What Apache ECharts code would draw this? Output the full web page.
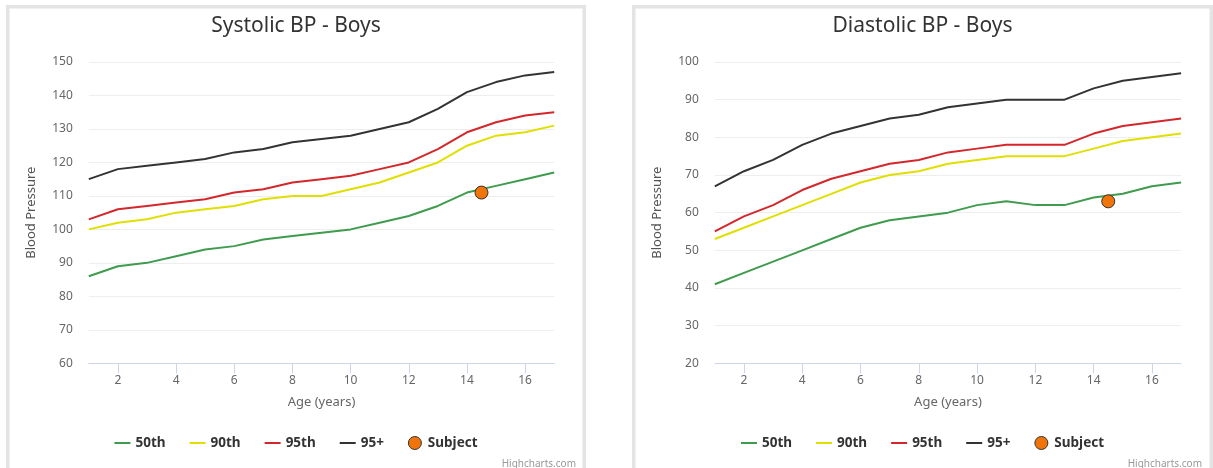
<!DOCTYPE html>
<html>
<head>
<meta charset="utf-8">
<title>Blood Pressure - Boys</title>
<script src="https://cdn.jsdelivr.net/npm/echarts@6/dist/echarts.min.js"></script>
<style>
  html, body { margin: 0; padding: 0; width: 1213px; height: 468px; overflow: hidden; background: #fff; }
  .panel { position: absolute; top: 0; height: 468px; }
  #sys { left: 6px; width: 580px; }
  #dia { left: 632px; width: 581px; }
</style>
</head>
<body>
<div id="sys" class="panel"></div>
<div id="dia" class="panel"></div>
<script>
// Ages (years) for the percentile curves
const ages = [1, 2, 3, 4, 5, 6, 7, 8, 9, 10, 11, 12, 13, 14, 15, 16, 17];
const ageTicks = [2, 4, 6, 8, 10, 12, 14, 16];
const seriesNames = ['50th', '90th', '95th', '95+', 'Subject'];

// Systolic percentiles (mmHg)
const sysP50 = [86, 89, 90, 92, 94, 95, 97, 98, 99, 100, 102, 104, 107, 111, 113, 115, 117];
const sysP90 = [100, 102, 103, 105, 106, 107, 109, 110, 110, 112, 114, 117, 120, 125, 128, 129, 131];
const sysP95 = [103, 106, 107, 108, 109, 111, 112, 114, 115, 116, 118, 120, 124, 129, 132, 134, 135];
const sysP95plus = [115, 118, 119, 120, 121, 123, 124, 126, 127, 128, 130, 132, 136, 141, 144, 146, 147];
const sysSubject = [[14.5, 111]];
const sysAxis = [60, 150, 10];

// Diastolic percentiles (mmHg)
const diaP50 = [41, 44, 47, 50, 53, 56, 58, 59, 60, 62, 63, 62, 62, 64, 65, 67, 68];
const diaP90 = [53, 56, 59, 62, 65, 68, 70, 71, 73, 74, 75, 75, 75, 77, 79, 80, 81];
const diaP95 = [55, 59, 62, 66, 69, 71, 73, 74, 76, 77, 78, 78, 78, 81, 83, 84, 85];
const diaP95plus = [67, 71, 74, 78, 81, 83, 85, 86, 88, 89, 90, 90, 90, 93, 95, 96, 97];
const diaSubject = [[14.5, 63]];
const diaAxis = [20, 100, 10];

const FONT = '"Noto Sans", "DejaVu Sans", sans-serif';
const lineColors = ['#3f9b4e', '#e0df00', '#d4272b', '#333333'];
const subjectColor = '#f0740a';
// Thin horizontal stroke for the line legend keys (outer moves keep the 16x13 box)
const lineKey = 'path://M0,0 M0,5.5 L16,5.5 L16,7.5 L0,7.5 Z M16,13';

function pair(values) {
  return values.map(function (v, i) { return [ages[i], v]; });
}

function buildOption(titleText, curves, subject, axis, dims) {
  const lines = curves.map(function (vals, i) {
    return {
      name: seriesNames[i],
      type: 'line',
      data: pair(vals),
      symbol: 'none',
      lineStyle: { width: 2, color: lineColors[i] },
      itemStyle: { color: lineColors[i] },
      emphasis: { disabled: true },
      z: 2
    };
  });
  lines.push({
    name: seriesNames[4],
    type: 'scatter',
    data: subject,
    symbol: 'circle',
    symbolSize: 13,
    itemStyle: { color: subjectColor, borderColor: '#333', borderWidth: 1, opacity: 1 },
    emphasis: { disabled: true },
    z: 5
  });
  const legendData = seriesNames.map(function (n, i) {
    return i < 4
      ? { name: n, icon: lineKey, itemStyle: { color: lineColors[i], borderWidth: 0 } }
      : { name: n, icon: 'circle', itemStyle: { color: subjectColor, borderColor: '#333', borderWidth: 1 } };
  });
  return {
    animation: false,
    textStyle: { fontFamily: FONT },
    title: {
      text: titleText,
      left: 'center',
      top: 11,
      textStyle: { fontFamily: FONT, fontSize: 21, fontWeight: 'normal', color: '#333' }
    },
    graphic: [
      {
        type: 'rect',
        shape: { x: 1.75, y: 6.75, width: dims.frame, height: 520 },
        style: { fill: 'none', stroke: '#e4e4e4', lineWidth: 3.5 },
        silent: true
      },
      {
        type: 'text',
        right: dims.creditRight,
        top: 459,
        style: { text: 'Highcharts.com', fill: '#999', font: '10px ' + FONT }
      }
    ],
    legend: {
      data: legendData,
      left: 'center',
      top: 431,
      itemWidth: 16,
      itemHeight: 13,
      itemGap: 24,
      textStyle: { fontFamily: FONT, fontSize: 13.5, fontWeight: 'bold', color: '#333' }
    },
    grid: { left: 82.8, top: 62, width: dims.plot, height: 301.3 },
    xAxis: {
      type: 'value',
      min: ages[0],
      max: ages[ages.length - 1],
      name: 'Age (years)',
      nameLocation: 'middle',
      nameGap: 32,
      nameTextStyle: { fontFamily: FONT, fontSize: 13, color: '#666' },
      axisLine: { lineStyle: { color: '#ccd6eb', width: 1 } },
      axisTick: { length: 10, lineStyle: { color: '#ccd6eb' }, customValues: ageTicks },
      axisLabel: { margin: 11, fontSize: 12, color: '#666', customValues: ageTicks },
      splitLine: { show: false }
    },
    yAxis: {
      type: 'value',
      min: axis[0],
      max: axis[1],
      interval: axis[2],
      name: 'Blood Pressure',
      nameLocation: 'middle',
      nameGap: 51,
      nameTextStyle: { fontFamily: FONT, fontSize: 13, color: '#555' },
      axisLine: { show: false },
      axisTick: { show: false },
      axisLabel: { margin: 16, fontSize: 12, color: '#666' },
      splitLine: { lineStyle: { color: '#eeeeee', width: 1 } }
    },
    series: lines
  };
}

const sysChart = echarts.init(document.getElementById('sys'), null, { renderer: 'canvas' });
sysChart.setOption(buildOption('Systolic BP - Boys',
  [sysP50, sysP90, sysP95, sysP95plus], sysSubject, sysAxis,
  { plot: 465.4, frame: 576.5, creditRight: 10 }));

const diaChart = echarts.init(document.getElementById('dia'), null, { renderer: 'canvas' });
diaChart.setOption(buildOption('Diastolic BP - Boys',
  [diaP50, diaP90, diaP95, diaP95plus], diaSubject, diaAxis,
  { plot: 466.3, frame: 577.5, creditRight: 11 }));
</script>
</body>
</html>
